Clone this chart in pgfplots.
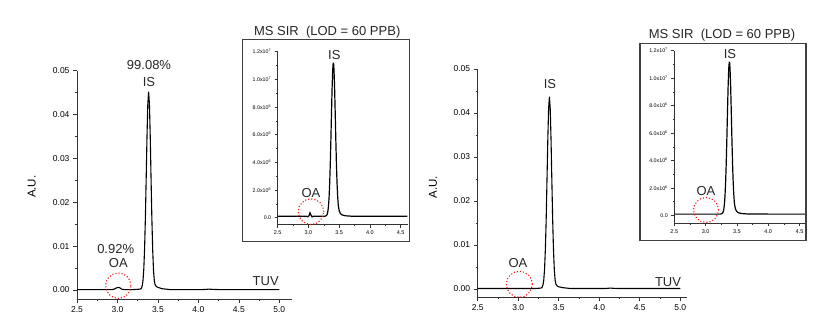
\documentclass[border=0pt]{standalone}
\usepackage{pgfplots}
\pgfplotsset{compat=1.18}
\usepackage{fontspec}
\setmainfont{Liberation Sans}
\definecolor{axgray}{HTML}{333333}
\definecolor{circred}{HTML}{FF1010}
\pgfplotsset{
  mainax/.style={
    scale only axis, axis lines=left, clip=false,
    axis line style={-, line width=0.9pt, axgray},
    tick style={line width=0.7pt, axgray},
    tick align=outside, major tick length=4pt, minor tick length=2pt,
    minor x tick num=1, minor y tick num=1,
    scaled ticks=false,
    /pgf/number format/assume math mode=true,
    x tick label style={font=\fontsize{8.5}{10}\selectfont, /pgf/number format/.cd, fixed, fixed zerofill, precision=1},
    y tick label style={font=\fontsize{8.5}{10}\selectfont, /pgf/number format/.cd, fixed, fixed zerofill, precision=2},
    xtick={2.5,3.0,3.5,4.0,4.5,5.0},
    ytick={0,0.01,0.02,0.03,0.04,0.05},
  },
  insetax/.style={
    scale only axis, axis lines=left, clip=false,
    axis line style={-, line width=0.9pt, axgray},
    tick style={line width=0.6pt, axgray},
    tick align=outside, major tick length=3pt, minor tick length=1.5pt,
    minor x tick num=1, minor y tick num=1,
    scaled ticks=false,
    /pgf/number format/assume math mode=true,
    x tick label style={font=\fontsize{5.5}{6}\selectfont, /pgf/number format/.cd, fixed, fixed zerofill, precision=1},
    y tick label style={font=\fontsize{5.3}{6}\selectfont},
    xtick={2.5,3.0,3.5,4.0,4.5},
    ytick={0,2e6,4e6,6e6,8e6,1e7,1.2e7},
    yticklabels={0.0,2.0x10\textsuperscript{6},4.0x10\textsuperscript{6},6.0x10\textsuperscript{6},8.0x10\textsuperscript{6},1.0x10\textsuperscript{7},1.2x10\textsuperscript{7}},
  },
}
\newcommand{\lbl}{\fontsize{13}{15}\selectfont}
\begin{document}
\begin{tikzpicture}
\path[use as bounding box] (0pt,0pt) rectangle (817pt,322pt);

% ---------- left main ----------
\begin{axis}[mainax, at={(77pt,23pt)}, anchor=south west,
  width=214.7pt, height=228.3pt,
  xmin=2.5, xmax=5.153, ymin=-0.00205, ymax=0.05]
\addplot[black, line width=1.1pt] coordinates {
(2.50,0.0001) (2.70,0.0001) (2.85,0.0001) (2.93,0.0001) (2.96,0.0002) (2.99,0.0005) (3.01,0.0006) (3.03,0.0005) (3.05,0.0002) (3.08,0.0001)
(3.20,0.0001) (3.28,0.0002) (3.295,0.0004) (3.305,0.0009) (3.315,0.0021) (3.325,0.0046) (3.335,0.0093) (3.345,0.0164) (3.355,0.0255)
(3.365,0.0350) (3.375,0.0424) (3.385,0.0452) (3.395,0.0424) (3.405,0.0350) (3.415,0.0255) (3.425,0.0164) (3.435,0.0093) (3.445,0.0046)
(3.455,0.0022) (3.465,0.0012) (3.48,0.0008) (3.50,0.0006) (3.55,0.0003) (3.65,0.0001) (4.05,0.0001) (4.10,0.00015) (4.13,0.0002)
(4.17,0.00015) (4.25,0.0001) (5.00,0.0001)};
\end{axis}

% ---------- right main ----------
\begin{axis}[mainax, at={(477.7pt,24.7pt)}, anchor=south west,
  width=209pt, height=228.3pt,
  xmin=2.5, xmax=5.079, ymin=-0.00189, ymax=0.05]
\addplot[black, line width=1.1pt] coordinates {
(2.50,0.0001) (2.80,0.0001) (3.00,0.0001) (3.20,0.0001) (3.28,0.0002) (3.295,0.0004) (3.305,0.0009) (3.315,0.0020) (3.325,0.0045)
(3.335,0.0090) (3.345,0.0158) (3.355,0.0247) (3.365,0.0339) (3.375,0.0410) (3.385,0.0437) (3.395,0.0410) (3.405,0.0339) (3.415,0.0247)
(3.425,0.0158) (3.435,0.0090) (3.445,0.0045) (3.455,0.0021) (3.465,0.0011) (3.48,0.0007) (3.50,0.0005) (3.55,0.0003) (3.65,0.0001)
(4.05,0.0001) (4.10,0.00015) (4.14,0.0002) (4.18,0.00015) (4.26,0.0001) (5.00,0.0001)};
\end{axis}

% ---------- left inset ----------
\draw[line width=1.1pt, black!75] (242.7pt,80.3pt) rectangle (409.3pt,282.5pt);
\begin{axis}[insetax, at={(277.7pt,97.5pt)}, anchor=south west,
  width=130pt, height=172.8pt,
  xmin=2.5, xmax=4.614, ymin=-4.9e5, ymax=1.2e7]
\addplot[black, line width=1.2pt] coordinates {
(2.50,1e5) (2.90,1e5) (2.97,1.0e5) (2.99,0.7e5) (3.01,1.5e5) (3.025,3.6e5) (3.04,2.0e5) (3.06,0.6e5) (3.08,1e5) (3.25,1e5)
(3.28,1.2e5) (3.295,1.8e5) (3.305,2.5e5) (3.315,4.3e5) (3.325,8.0e5) (3.335,1.43e6) (3.345,2.44e6) (3.355,3.87e6) (3.365,5.66e6)
(3.375,7.62e6) (3.385,9.44e6) (3.395,1.073e7) (3.400,1.10e7) (3.403,1.12e7) (3.406,1.08e7) (3.409,1.115e7) (3.415,1.073e7)
(3.425,9.44e6) (3.435,7.62e6) (3.445,5.66e6) (3.455,3.87e6) (3.465,2.50e6) (3.475,1.55e6) (3.485,9.0e5) (3.50,5.0e5) (3.52,3.0e5)
(3.55,2.0e5) (3.60,1.4e5) (3.70,1.1e5) (4.00,1.0e5) (4.61,1.0e5)};
\end{axis}

% ---------- right inset ----------
\draw[line width=1.1pt, black!75] (640pt,81.3pt) rectangle (806pt,278.7pt);
\begin{axis}[insetax, at={(674.3pt,98.7pt)}, anchor=south west,
  width=130.7pt, height=172.6pt,
  xmin=2.5, xmax=4.588, ymin=-5.7e5, ymax=1.2e7]
\addplot[black, line width=1.2pt] coordinates {
(2.50,1e5) (2.90,1e5) (3.10,1e5) (3.23,1e5)
(3.255,1.2e5) (3.27,1.8e5) (3.28,2.5e5) (3.29,4.3e5) (3.30,8.0e5) (3.31,1.43e6) (3.32,2.44e6) (3.33,3.87e6) (3.34,5.66e6)
(3.35,7.62e6) (3.36,9.44e6) (3.37,1.073e7) (3.375,1.10e7) (3.378,1.12e7) (3.381,1.09e7) (3.384,1.115e7) (3.39,1.073e7)
(3.40,9.44e6) (3.41,7.62e6) (3.42,5.66e6) (3.43,3.87e6) (3.44,2.50e6) (3.45,1.55e6) (3.46,9.0e5) (3.475,5.0e5) (3.495,3.0e5)
(3.525,2.0e5) (3.575,1.4e5) (3.675,1.1e5) (4.00,1.0e5) (4.585,1.0e5)};
\end{axis}

% ---------- annotations ----------
\node[font=\lbl, text=black!85] at (149pt,257pt) {99.08\%};
\node[font=\lbl, text=black!85] at (149pt,240.3pt) {IS};
\node[font=\lbl, text=black!85] at (115.7pt,73pt) {0.92\%};
\node[font=\lbl, text=black!85] at (118.3pt,59pt) {OA};
\draw[circred, dotted, line width=1.1pt] (118.3pt,36.3pt) circle[radius=12.7pt];
\node[font=\lbl, text=black!85] at (265.7pt,41pt) {TUV};
\node[font=\fontsize{11.5}{13}\selectfont, rotate=90] at (31.7pt,135.3pt) {A.U.};

\node[font=\lbl, text=black!85] at (550pt,238pt) {IS};
\node[font=\lbl, text=black!85] at (518pt,59pt) {OA};
\draw[circred, dotted, line width=1.1pt] (519.3pt,37.7pt) circle[radius=13pt];
\node[font=\lbl, text=black!85] at (668pt,40.3pt) {TUV};
\node[font=\fontsize{11.5}{13}\selectfont, rotate=90] at (433pt,135pt) {A.U.};

\node[font=\lbl, text=black!85] at (327.2pt,289.7pt) {MS SIR\ \ (LOD = 60 PPB)};
\node[font=\lbl, text=black!85] at (334.3pt,267pt) {IS};
\node[font=\lbl, text=black!85] at (311pt,129.3pt) {OA};
\draw[circred, dotted, line width=1.1pt] (311pt,110.3pt) circle[radius=12.8pt];

\node[font=\lbl, text=black!85] at (722pt,287pt) {MS SIR\ \ (LOD = 60 PPB)};
\node[font=\lbl, text=black!85] at (730pt,267.7pt) {IS};
\node[font=\lbl, text=black!85] at (706pt,131.3pt) {OA};
\draw[circred, dotted, line width=1.1pt] (706pt,112pt) circle[radius=12.5pt];
\end{tikzpicture}
\end{document}
